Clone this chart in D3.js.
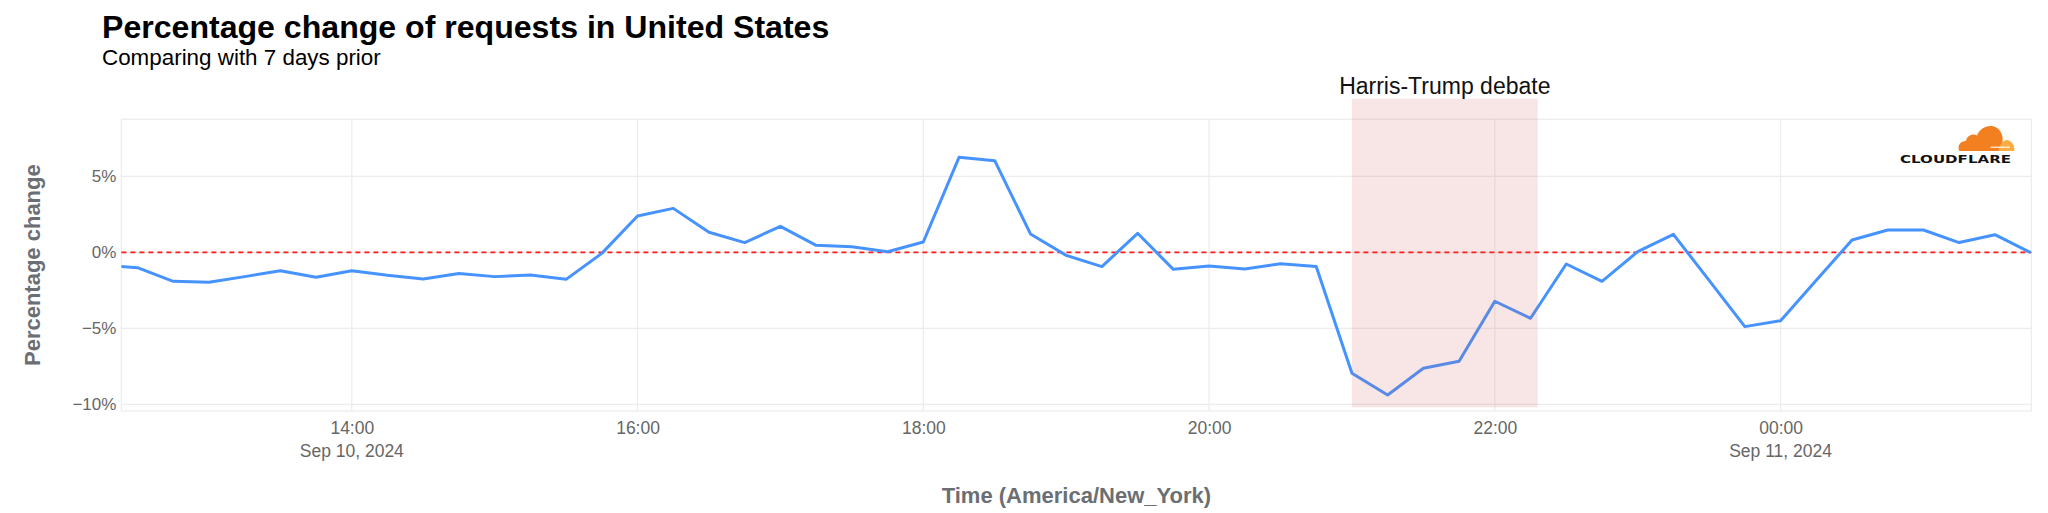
<!DOCTYPE html>
<html>
<head>
<meta charset="utf-8">
<script src="https://cdn.jsdelivr.net/npm/d3@7"></script>
<style>
  html, body { margin: 0; padding: 0; background: #fff; }
  svg { display: block; font-family: "Liberation Sans", Arial, Helvetica, sans-serif; }
</style>
</head>
<body>
<svg id="chart" width="2048" height="513"></svg>
<script>
// ---------- data ----------
const title = "Percentage change of requests in United States";
const subtitle = "Comparing with 7 days prior";
const yAxisTitle = "Percentage change";
const xAxisTitle = "Time (America/New_York)";

const times = [
  "2024-09-10T12:15","2024-09-10T12:30","2024-09-10T12:45","2024-09-10T13:00",
  "2024-09-10T13:15","2024-09-10T13:30","2024-09-10T13:45","2024-09-10T14:00",
  "2024-09-10T14:15","2024-09-10T14:30","2024-09-10T14:45","2024-09-10T15:00",
  "2024-09-10T15:15","2024-09-10T15:30","2024-09-10T15:45","2024-09-10T16:00",
  "2024-09-10T16:15","2024-09-10T16:30","2024-09-10T16:45","2024-09-10T17:00",
  "2024-09-10T17:15","2024-09-10T17:30","2024-09-10T17:45","2024-09-10T18:00",
  "2024-09-10T18:15","2024-09-10T18:30","2024-09-10T18:45","2024-09-10T19:00",
  "2024-09-10T19:15","2024-09-10T19:30","2024-09-10T19:45","2024-09-10T20:00",
  "2024-09-10T20:15","2024-09-10T20:30","2024-09-10T20:45","2024-09-10T21:00",
  "2024-09-10T21:15","2024-09-10T21:30","2024-09-10T21:45","2024-09-10T22:00",
  "2024-09-10T22:15","2024-09-10T22:30","2024-09-10T22:45","2024-09-10T23:00",
  "2024-09-10T23:15","2024-09-10T23:30","2024-09-10T23:45","2024-09-11T00:00",
  "2024-09-11T00:15","2024-09-11T00:30","2024-09-11T00:45","2024-09-11T01:00",
  "2024-09-11T01:15","2024-09-11T01:30","2024-09-11T01:45"
];
const values = [
  -0.86, -1.01, -1.91, -1.97,
  -1.60, -1.21, -1.64, -1.21,
  -1.51, -1.75, -1.40, -1.60,
  -1.49, -1.78, -0.07, 2.39,
  2.89, 1.32, 0.64, 1.71,
  0.46, 0.37, 0.04, 0.68,
  6.25, 6.03, 1.21, -0.20,
  -0.94, 1.25, -1.12, -0.90,
  -1.10, -0.75, -0.94, -7.96,
  -9.39, -7.63, -7.17, -3.22,
  -4.34, -0.77, -1.91, 0.04,
  1.18, -1.85, -4.89, -4.50,
  -1.84, 0.81, 1.47, 1.47,
  0.64, 1.16, -0.02
];

const xDomain = ["2024-09-10T12:23:15", "2024-09-11T01:45:20"];
const yDomain = [-10.44, 8.75];
const xTicks = ["2024-09-10T14:00","2024-09-10T16:00","2024-09-10T18:00",
                "2024-09-10T20:00","2024-09-10T22:00","2024-09-11T00:00"];
const dateLabels = [
  { time: "2024-09-10T14:00", label: "Sep 10, 2024" },
  { time: "2024-09-11T00:00", label: "Sep 11, 2024" }
];
const yTicks = [-10, -5, 0, 5];
const referenceValue = 0;

const eventLabel = "Harris-Trump debate";
const eventStart = "2024-09-10T21:00";
const eventEnd = "2024-09-10T22:18";
const eventYRange = [-10.2, 10.1];

// ---------- setup ----------
const parse = s => new Date(s + "Z");
const W = 2048, H = 513;
const margin = { left: 121.4, right: 16.6, top: 119.3, bottom: 102 };
const plotW = W - margin.left - margin.right;
const plotH = H - margin.top - margin.bottom;

const svg = d3.select("#chart");

const x = d3.scaleUtc().domain(xDomain.map(parse)).range([0, plotW]);
const y = d3.scaleLinear().domain(yDomain).range([plotH, 0]);

const data = times.map((t, i) => ({ t: parse(t), v: values[i] }));

// Titles
svg.append("text").attr("x", 102).attr("y", 37.5)
  .attr("font-size", 32.1).attr("font-weight", "bold").attr("fill", "#000")
  .text(title);
svg.append("text").attr("x", 102).attr("y", 65)
  .attr("font-size", 22.4).attr("fill", "#000")
  .text(subtitle);

const g = svg.append("g").attr("transform", `translate(${margin.left},${margin.top})`);

g.append("defs").append("clipPath").attr("id", "plotclip")
  .append("rect").attr("x", 0).attr("y", -30).attr("width", plotW).attr("height", plotH + 30);

// Plot border
g.append("rect").attr("x", 0).attr("y", 0).attr("width", plotW).attr("height", plotH)
  .attr("fill", "none").attr("stroke", "#ececec").attr("stroke-width", 1.2);

// Grid lines
g.append("g").selectAll("line").data(yTicks).join("line")
  .attr("x1", 0).attr("x2", plotW)
  .attr("y1", d => y(d)).attr("y2", d => y(d))
  .attr("stroke", "#ececec").attr("stroke-width", 1.2);
g.append("g").selectAll("line").data(xTicks.map(parse)).join("line")
  .attr("x1", d => x(d)).attr("x2", d => x(d))
  .attr("y1", 0).attr("y2", plotH)
  .attr("stroke", "#ececec").attr("stroke-width", 1.2);

// Y tick labels
const fmtPct = d => (d < 0 ? "\u2212" + Math.abs(d) : d) + "%";
const yAxis = d3.axisLeft(y).tickValues(yTicks).tickFormat(fmtPct).tickSize(0).tickPadding(5);
const yAx = g.append("g").call(yAxis);
yAx.select(".domain").remove();
yAx.selectAll("text").attr("font-size", 17).attr("fill", "#666")
  .attr("font-family", "'Liberation Sans', Arial, sans-serif");

// X tick labels
const xAxis = d3.axisBottom(x).tickValues(xTicks.map(parse))
  .tickFormat(d3.utcFormat("%H:%M")).tickSize(0).tickPadding(11);
const xAx = g.append("g").attr("transform", `translate(0,${plotH})`).call(xAxis);
xAx.select(".domain").remove();
xAx.selectAll("text").attr("font-size", 17.5).attr("fill", "#666")
  .attr("font-family", "'Liberation Sans', Arial, sans-serif");

g.append("g").selectAll("text").data(dateLabels).join("text")
  .attr("x", d => x(parse(d.time))).attr("y", plotH + 46)
  .attr("text-anchor", "middle").attr("font-size", 17.5).attr("fill", "#666")
  .text(d => d.label);

// Axis titles
svg.append("text")
  .attr("transform", `translate(40,${margin.top + plotH / 2}) rotate(-90)`)
  .attr("text-anchor", "middle").attr("font-size", 22).attr("font-weight", "bold")
  .attr("fill", "#6b6f73").text(yAxisTitle);
svg.append("text")
  .attr("x", margin.left + plotW / 2).attr("y", 503)
  .attr("text-anchor", "middle").attr("font-size", 22).attr("font-weight", "bold")
  .attr("fill", "#6b6f73").text(xAxisTitle);

// Reference line
g.append("line").attr("x1", 0).attr("x2", plotW)
  .attr("y1", y(referenceValue)).attr("y2", y(referenceValue))
  .attr("stroke", "#ff1a1a").attr("stroke-width", 1.8).attr("stroke-dasharray", "5,4");

// Data line
const line = d3.line().x(d => x(d.t)).y(d => y(d.v));
g.append("path").datum(data).attr("clip-path", "url(#plotclip)")
  .attr("d", line).attr("fill", "none")
  .attr("stroke", "#4693ff").attr("stroke-width", 3).attr("stroke-linejoin", "round");

// Event shading
const ex0 = x(parse(eventStart)), ex1 = x(parse(eventEnd));
g.append("rect").attr("x", ex0).attr("width", ex1 - ex0)
  .attr("y", y(eventYRange[1])).attr("height", y(eventYRange[0]) - y(eventYRange[1]))
  .attr("fill", "rgba(200,90,80,0.15)");
g.append("text").attr("x", (ex0 + ex1) / 2).attr("y", y(eventYRange[1]) - 5)
  .attr("text-anchor", "middle").attr("font-size", 23).attr("fill", "#111")
  .text(eventLabel);

// Cloudflare logo
const logo = svg.append("g").attr("transform", "translate(1957,122) scale(1.12)");
logo.append("path")
  .attr("d", "M2,26 C0,21 3,17 8,17 C9,12 14,10 18,12 C21,3 34,0 39,9 C42,14 41,21 38,26 Z")
  .attr("fill", "#f38020");
logo.append("path")
  .attr("d", "M37,26 C38,20 41,16 45,16 C49,17 52,21 51,26 Z")
  .attr("fill", "#fbad41");
logo.append("line").attr("x1", 30).attr("x2", 47).attr("y1", 22.5).attr("y2", 22.5)
  .attr("stroke", "#fff").attr("stroke-width", 1);
svg.append("text").attr("x", 1900).attr("y", 162.5)
  .attr("font-size", 10).attr("font-weight", 900).attr("fill", "#111")
  .attr("font-family", "'DejaVu Sans', sans-serif")
  .attr("textLength", 111).attr("lengthAdjust", "spacingAndGlyphs")
  .text("CLOUDFLARE");
</script>
</body>
</html>
